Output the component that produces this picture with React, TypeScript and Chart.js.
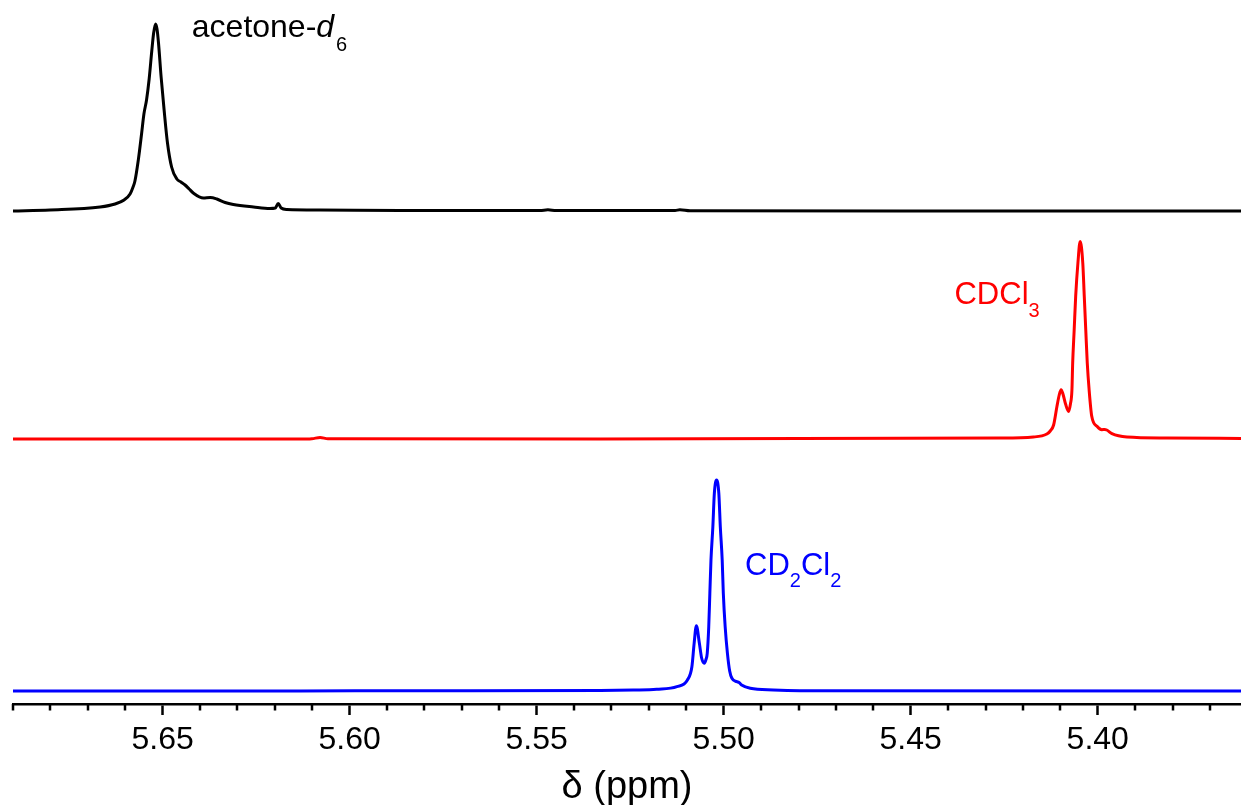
import React, { useEffect, useRef } from "react";
import { Chart, registerables } from "chart.js";

Chart.register(...registerables);

// ---- Data (chemical shift in ppm, intensity in arbitrary units above each trace's baseline) ----
const acetonePpm = [
  5.69, 5.6801, 5.6667, 5.6627, 5.6603, 5.6587, 5.6579, 5.6574, 5.6565, 5.6556, 5.655, 5.6543,
  5.6536, 5.6529, 5.6524, 5.6519, 5.6515, 5.6511, 5.6504, 5.6496, 5.6487, 5.6476, 5.6462, 5.6451,
  5.644, 5.6429, 5.6418, 5.6391, 5.6373, 5.6355, 5.6333, 5.6311, 5.6257, 5.6213, 5.6199, 5.6191,
  5.6183, 5.6168, 5.6079, 5.5865, 5.5491, 5.547, 5.5448, 5.513, 5.5117, 5.509, 5.4528, 5.3617,
];
const acetoneInt = [
  0, 1, 4, 7, 11, 17, 24, 30, 51, 78, 97, 111,
  132, 160, 178, 187, 182, 168, 134, 101, 68, 44, 32, 29,
  26, 22, 18, 13, 13.5, 12, 8.5, 6.5, 4, 2.5, 3, 7.5,
  3, 1.5, 1, 0.5, 0.5, 1.2, 0.5, 0.5, 1.3, 0.3, 0, 0,
];

const cdcl3Ppm = [
  5.69, 5.6667, 5.6133, 5.6101, 5.6079, 5.6058, 5.533, 5.4261, 5.4172, 5.4136, 5.4127, 5.4118, 5.4109,
  5.4103, 5.4098, 5.4093, 5.4086, 5.4078, 5.4073, 5.4069, 5.4067, 5.4063, 5.4059, 5.4053, 5.4047,
  5.404, 5.4036, 5.4032, 5.4028, 5.4023, 5.4016, 5.4002, 5.3989, 5.3982, 5.3976, 5.3962, 5.3922,
  5.3815, 5.3617,
];
const cdcl3Int = [
  0, 0, 0, 0.3, 1.5, 0.3, 0, 1, 2, 5, 8, 14, 32.7,
  44, 49.3, 45, 35, 27.6, 35, 49, 76, 109, 142.6, 176, 197.6,
  176, 142.6, 109, 76, 49, 22.7, 12.7, 9.3, 9.5, 9, 5.3, 2,
  1, 0.5,
];

const cd2cl2Ppm = [
  5.69, 5.6133, 5.5865, 5.533, 5.5242, 5.5179, 5.5125, 5.5097, 5.5085, 5.5079, 5.5073, 5.5065,
  5.5059, 5.5052, 5.5047, 5.5044, 5.504, 5.5037, 5.5034, 5.5029, 5.5025, 5.5019, 5.5013, 5.5009,
  5.5004, 5.5001, 5.4996, 5.499, 5.4984, 5.4978, 5.4965, 5.4959, 5.4952, 5.4929, 5.4867, 5.4796,
  5.3617,
];
const cd2cl2Int = [
  0, 0, 0.3, 0.6, 1, 1.7, 4.3, 11, 24.3, 47.7, 65.3, 47.7,
  33, 27.7, 32, 37.7, 64, 97.7, 131, 164, 197.7, 211, 197.7, 164,
  131, 97.7, 64, 37.7, 20, 12.7, 9.3, 8.5, 6, 2.7, 1, 0.3,
  0,
];

// vertical stacking of the three spectra (a.u.)
const stackOffsets = [493, 265, 13];
const seriesNames = ["acetone-d6", "CDCl3", "CD2Cl2"];

// axis
const xMin = 5.3617;
const xMax = 5.69;
const yMin = 0;
const yMax = 704;
const majorTicks = [5.65, 5.6, 5.55, 5.5, 5.45, 5.4];
const minorTicks = [
  5.69, 5.68, 5.67, 5.66, 5.64, 5.63, 5.62, 5.61, 5.59, 5.58, 5.57, 5.56, 5.54, 5.53,
  5.52, 5.51, 5.49, 5.48, 5.47, 5.46, 5.44, 5.43, 5.42, 5.41, 5.39, 5.38, 5.37,
];

// ---- styling ----
const FONT = '"Liberation Sans", Arial, Helvetica, sans-serif';
const colors = ["#000000", "#ff0000", "#0000ff"];

type Part = { t: string; k: "n" | "i" | "s" };
const annotations: { parts: Part[]; ppm: number; val: number; color: string; size: number; sub: number; drop: number }[] = [
  {
    parts: [
      { t: "acetone-", k: "n" },
      { t: "d", k: "i" },
      { t: "6", k: "s" },
    ],
    ppm: 5.6422,
    val: 667.3,
    color: "#000000",
    size: 32,
    sub: 20,
    drop: 14,
  },
  {
    parts: [
      { t: "CDCl", k: "n" },
      { t: "3", k: "s" },
    ],
    ppm: 5.4383,
    val: 400,
    color: "#ff0000",
    size: 31,
    sub: 20,
    drop: 13,
  },
  {
    parts: [
      { t: "CD", k: "n" },
      { t: "2", k: "s" },
      { t: "Cl", k: "n" },
      { t: "2", k: "s" },
    ],
    ppm: 5.4943,
    val: 129,
    color: "#0000ff",
    size: 31,
    sub: 20,
    drop: 12,
  },
];

const extrasPlugin = {
  id: "nmrExtras",
  afterDraw(chart: any) {
    const ctx = chart.ctx as CanvasRenderingContext2D;
    const xs = chart.scales.x;
    const ys = chart.scales.y;
    const bottom = chart.chartArea.bottom;
    ctx.save();
    // minor ticks
    ctx.strokeStyle = "#000";
    ctx.lineWidth = 2.5;
    ctx.beginPath();
    for (const v of minorTicks) {
      const px = Math.round(xs.getPixelForValue(v));
      ctx.moveTo(px, bottom);
      ctx.lineTo(px, bottom + 6.5);
    }
    ctx.stroke();
    // annotations with sub/italic parts
    ctx.textBaseline = "alphabetic";
    ctx.textAlign = "left";
    for (const a of annotations) {
      let x = xs.getPixelForValue(a.ppm);
      const y = ys.getPixelForValue(a.val);
      ctx.fillStyle = a.color;
      for (const p of a.parts) {
        if (p.k === "s") ctx.font = `${a.sub}px ${FONT}`;
        else if (p.k === "i") ctx.font = `italic ${a.size}px ${FONT}`;
        else ctx.font = `${a.size}px ${FONT}`;
        const yy = p.k === "s" ? y + a.drop : y;
        ctx.fillText(p.t, x, yy);
        x += ctx.measureText(p.t).width + (p.k === "i" ? 2 : 0);
      }
    }
    ctx.restore();
  },
};

export default function App() {
  const ref = useRef<HTMLCanvasElement>(null);
  useEffect(() => {
    document.body.style.margin = "0";
    const canvas = ref.current;
    if (!canvas) return;
    const series = [
      [acetonePpm, acetoneInt],
      [cdcl3Ppm, cdcl3Int],
      [cd2cl2Ppm, cd2cl2Int],
    ];
    const datasets = series.map(([xs, ys], i) => ({
      label: seriesNames[i],
      data: xs.map((x, j) => ({ x, y: ys[j] + stackOffsets[i] })),
      borderColor: colors[i],
      backgroundColor: colors[i],
      borderWidth: 3,
      pointRadius: 0,
      fill: false,
      cubicInterpolationMode: "monotone" as const,
    }));
    const chart = new Chart(canvas, {
      type: "line",
      data: { datasets },
      options: {
        responsive: false,
        animation: false,
        layout: { padding: { left: 13, right: 0, top: 0, bottom: 0 } },
        plugins: { legend: { display: false }, tooltip: { enabled: false } },
        scales: {
          x: {
            type: "linear",
            reverse: true,
            min: xMin,
            max: xMax,
            afterBuildTicks: (s: any) => {
              s.ticks = majorTicks.map((v) => ({ value: v }));
            },
            afterFit: (s: any) => {
              s.height = 101;
            },
            ticks: {
              font: { family: FONT, size: 32 },
              color: "#000",
              padding: 6,
              maxRotation: 0,
              autoSkip: false,
              callback: (v: any) => Number(v).toFixed(2),
            },
            grid: {
              display: true,
              drawOnChartArea: false,
              drawTicks: true,
              tickLength: 11,
              tickWidth: 2.5,
              tickColor: "#000",
              color: "#000",
            },
            border: { display: true, color: "#000", width: 2.5 },
            title: {
              display: true,
              text: "δ (ppm)",
              font: { family: FONT, size: 38 },
              color: "#000",
              padding: { top: 0, bottom: -5 },
            },
          },
          y: { display: false, min: yMin, max: yMax },
        },
      },
      plugins: [extrasPlugin],
    });
    return () => chart.destroy();
  }, []);
  return (
    <div style={{ position: "absolute", left: 0, top: 0, width: 1241, height: 805 }}>
      <canvas ref={ref} width={1241} height={805} style={{ display: "block" }} />
    </div>
  );
}
